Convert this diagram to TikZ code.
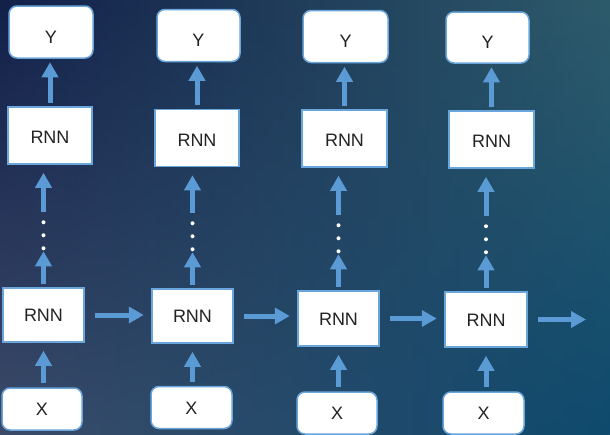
\documentclass[tikz,border=0pt]{standalone}
\usepackage{fontspec}
\setmainfont{Liberation Sans}
\usepackage{xcolor}
\usetikzlibrary{arrows.meta,fadings,positioning,calc}
\definecolor{bgtl}{HTML}{13204A}
\definecolor{bgtr}{HTML}{2E5B6B}
\definecolor{bgbl}{HTML}{3B4B69}
\definecolor{bgbr}{HTML}{0E4A6E}
\definecolor{boxblue}{HTML}{6AA6DC}
\definecolor{arrowblue}{HTML}{5B9BD5}
\definecolor{txtgray}{HTML}{222222}
\tikzfading[name=fadeup, top color=transparent!100, bottom color=transparent!0]
\tikzset{>={Triangle[length=15pt,width=16pt]}}
\tikzset{
  cell/.style={draw=boxblue, line width=1.5pt, fill=white, inner sep=0pt,
    minimum width=84pt, minimum height=57pt, text height=16pt,
    font=\fontsize{18}{20}\selectfont, text=txtgray},
  lowcell/.style={cell, minimum width=81pt, minimum height=54pt, text height=13pt},
  ybox/.style={cell, rounded corners=8pt, minimum height=52pt, text height=22pt},
  xbox/.style={cell, rounded corners=8pt, minimum width=80pt, minimum height=42pt, text height=13pt},
  dotcol/.style={inner sep=0pt, minimum width=6pt, minimum height=39pt},
  flow/.style={->, draw=arrowblue, line width=5pt},
}

\begin{document}
\begin{tikzpicture}[x=1pt,y=-1pt]
  % Background
  \useasboundingbox (0,0) rectangle (610,434);
  \clip (0,0) rectangle (610,434);
  \shade[left color=bgtl, right color=bgtr] (0,0) rectangle (610,434);
  \shade[left color=bgbl, right color=bgbr, path fading=fadeup] (0,0) rectangle (610,434);

  % Boxes
  \node[ybox] (y1) at (51,32) {Y};
  \node[cell] (rt1) at (50,135.5) {RNN};
  \node[lowcell] (rb1) at (43.5,315) {RNN};
  \node[xbox] (x1) at (42,409) {X};

  \node[ybox, minimum width=83pt] (y2) at (198.5,35.5) {Y};
  \node[cell] (rt2) at (197,138) {RNN};
  \node[lowcell] (rb2) at (192.5,316) {RNN};
  \node[xbox, minimum width=81pt] (x2) at (191.5,407.5) {X};

  \node[ybox, minimum width=85pt] (y3) at (345.5,36.5) {Y};
  \node[cell, minimum width=85pt] (rt3) at (344.5,138.5) {RNN};
  \node[lowcell, minimum height=55pt] (rb3) at (338.5,318.5) {RNN};
  \node[xbox] (x3) at (337,413) {X};

  \node[ybox, minimum width=83pt, minimum height=51pt] (y4) at (487.5,37.5) {Y};
  \node[cell, minimum width=85pt] (rt4) at (491.5,139.5) {RNN};
  \node[lowcell, minimum width=82pt, minimum height=55pt] (rb4) at (486,319.5) {RNN};
  \node[xbox, minimum width=81pt] (x4) at (483.5,413) {X};
  \coordinate (out) at (586,318);

  % Vertical arrows and dots
  \foreach \i in {1,...,4} {
    \node[dotcol, above=36pt of rb\i] (v\i) {};
    \foreach \d in {3,16,29}
      \fill[white] ($(v\i.south)+(0,-\d)$) circle (2pt);
    \draw[flow, shorten <=3.5pt, shorten >=3.5pt] (rt\i.north) -- (rt\i.north |- y\i.south);
    \draw[flow, shorten <=3.5pt] (rb\i.north) -- (v\i.south);
    \draw[flow, shorten >=8pt] (v\i.north) -- (v\i.north |- rt\i.south);
    \draw[flow, shorten <=4pt, shorten >=8pt] (x\i.north -| rb\i) -- (rb\i.south);
  }

  % Horizontal arrows
  \foreach \i/\j in {1/2,2/3,3/4}
    \draw[flow, shorten <=10.5pt, shorten >=7.5pt] (rb\i.east) -- (rb\i.east -| rb\j.west);
  \draw[flow, shorten <=10.5pt] (rb4.east) -- (rb4.east -| out);
\end{tikzpicture}
\end{document}
